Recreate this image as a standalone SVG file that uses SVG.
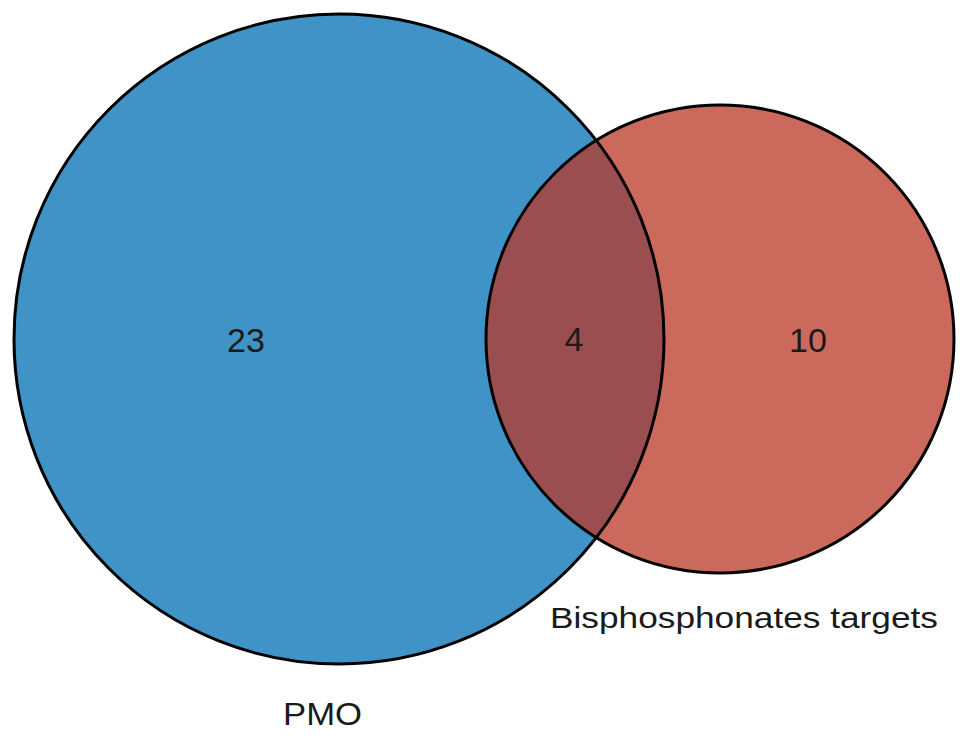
<svg xmlns="http://www.w3.org/2000/svg" width="969" height="740" viewBox="0 0 969 740">
<style>
.lbl{font-family:"Liberation Sans",Arial,Helvetica,sans-serif;fill:#1a1a1a}
.edge{fill:none;stroke:#000;stroke-width:3}
</style>
<defs>
<clipPath id="clipBlue"><circle cx="339" cy="339" r="325"/></clipPath>
</defs>
<rect width="969" height="740" fill="#fff"/>
<g id="PMO">
<circle cx="339" cy="339" r="325" fill="#3F93C6"/>
</g>
<g id="Bisphosphonates">
<circle cx="720" cy="339" r="234" fill="#CB6A5C"/>
</g>
<g id="overlap">
<circle cx="720" cy="339" r="234" fill="#9B4E4F" clip-path="url(#clipBlue)"/>
</g>
<g id="outlines">
<circle class="edge" cx="339" cy="339" r="325"/>
<circle class="edge" cx="720" cy="339" r="234"/>
</g>
<g id="labels">
<text class="lbl" x="246" y="352" font-size="34" text-anchor="middle">23</text>
<text class="lbl" x="574" y="351" font-size="34" text-anchor="middle">4</text>
<text class="lbl" x="808" y="352" font-size="34" text-anchor="middle">10</text>
<text class="lbl" x="550" y="628" font-size="30" textLength="388" lengthAdjust="spacingAndGlyphs">Bisphosphonates targets</text>
<text class="lbl" x="283" y="725" font-size="32" textLength="79" lengthAdjust="spacingAndGlyphs">PMO</text>
</g>
</svg>
